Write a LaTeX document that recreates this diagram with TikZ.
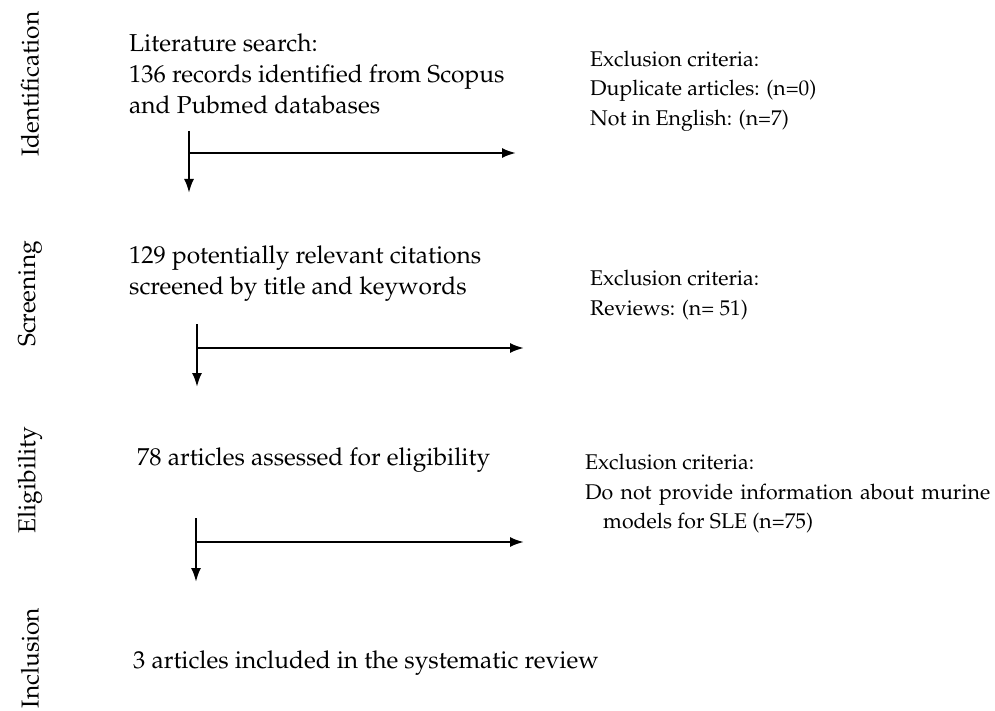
\documentclass[tikz,border=0pt]{standalone}
\usepackage[T1]{fontenc}
\usepackage{mathpazo}
\usetikzlibrary{arrows.meta}
\begin{document}
\begin{tikzpicture}[x=1pt,y=-1pt,
  txt/.style={anchor=west,inner sep=0pt,align=left,font=\fontsize{24.5}{31}\selectfont},
  extxt/.style={anchor=west,inner sep=0pt,align=left,font=\fontsize{21.3}{29.5}\selectfont},
  phase/.style={rotate=90,inner sep=0pt,font=\fontsize{24.5}{28}\selectfont},
  flow/.style={line width=2.2pt,-{Latex[length=14pt,width=10pt]}}]
\useasboundingbox (0,0) rectangle (995,711);
% phase labels
\node[phase] (pid) at (30,84) {Identification};
\node[phase] (psc) at (30,294) {Screening};
\node[phase] (pel) at (30,480) {Eligibility};
\node[phase] (pin) at (30,658) {Inclusion};
% main texts
\node[txt] (t1) at (129,74) {Literature search:\\136 records identified from Scopus\\and Pubmed databases};
\node[txt] (t2) at (129,274) {129 potentially relevant citations\\screened by title and keywords};
\node[txt] (t3) at (137,460) {78 articles assessed for eligibility};
\node[txt] (t4) at (133,663) {3 articles included in the systematic review};
% exclusion texts
\node[extxt] (e1) at (590,91) {Exclusion criteria:\\Duplicate articles: (n=0)\\Not in English: (n=7)};
\node[extxt] (e2) at (590,295) {Exclusion criteria:\\Reviews: (n= 51)};
\node[extxt] (e3) at (585,494) {Exclusion criteria:\\\makebox[405pt][s]{Do not provide information about murine}\\\hspace*{18pt}models for SLE (n=75)};
% arrows
\coordinate (a1t) at (189,131); \coordinate (a1b) at (189,193);
\coordinate (a1j) at (189,153); \coordinate (a1e) at (516,153);
\coordinate (a2t) at (197,324); \coordinate (a2b) at (197,387);
\coordinate (a2j) at (197,348); \coordinate (a2e) at (524,348);
\coordinate (a3t) at (196,518); \coordinate (a3b) at (196,582);
\coordinate (a3j) at (196,542); \coordinate (a3e) at (524,542);
\draw[flow] (a1t) -- (a1b);
\draw[flow] (a1j) -- (a1e);
\draw[flow] (a2t) -- (a2b);
\draw[flow] (a2j) -- (a2e);
\draw[flow] (a3t) -- (a3b);
\draw[flow] (a3j) -- (a3e);
\end{tikzpicture}
\end{document}
